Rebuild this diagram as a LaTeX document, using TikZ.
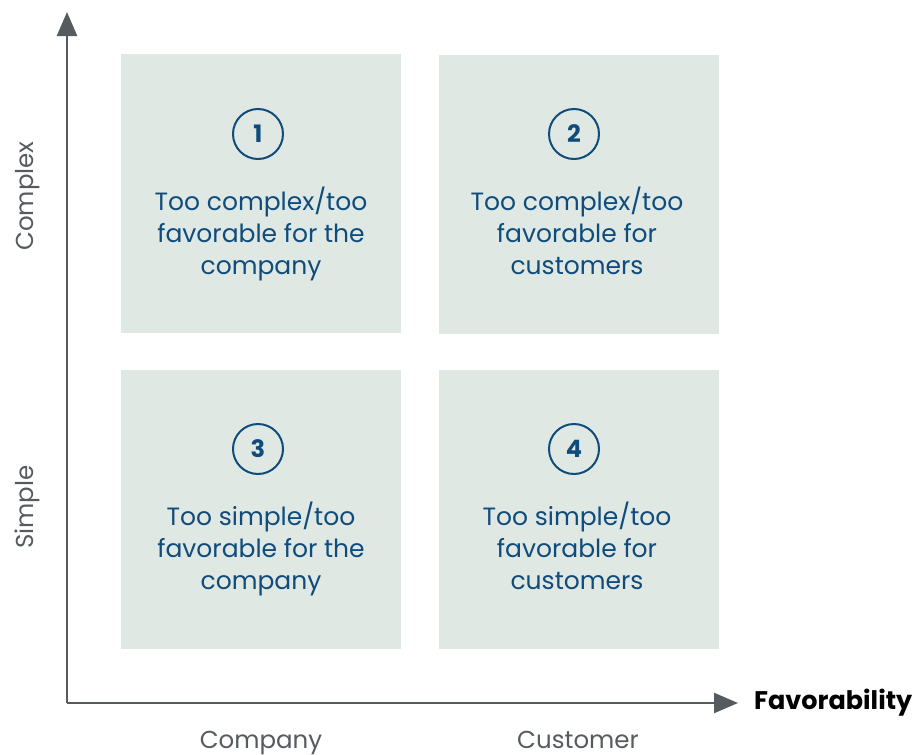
\documentclass[tikz,border=0pt]{standalone}
\usepackage{fontspec}
\setmainfont{Poppins}
\usetikzlibrary{arrows.meta}
\definecolor{boxfill}{HTML}{E0E8E4}
\definecolor{txtblue}{HTML}{0F4C7B}
\definecolor{axisgray}{HTML}{555B5E}
\definecolor{lblgray}{HTML}{555B5E}
\begin{document}
\begin{tikzpicture}[x=1pt,y=-1pt,
  quad/.style={fill=boxfill,draw=none,minimum width=280pt,minimum height=279pt,inner sep=0pt},
  num/.style={circle,draw=txtblue,line width=2pt,minimum size=50pt,inner sep=0pt,text=txtblue,font=\fontsize{24}{24}\selectfont\bfseries},
  desc/.style={text=txtblue,align=center,inner sep=0pt,font=\fontsize{25}{32}\selectfont},
  axislbl/.style={text=lblgray,anchor=base,inner sep=0pt,font=\fontsize{24.5}{28}\selectfont},
  axis/.style={draw=axisgray,line width=2.5pt,-{Triangle[length=24pt,width=20pt]}}
]
\useasboundingbox (0,0) rectangle (914,755);
\node[quad] (q1) at (261,193.5) {};
\node[quad] (q2) at (578.5,194) {};
\node[quad] (q3) at (261,509) {};
\node[quad] (q4) at (578.5,509) {};
\node[num] (n1) at (258,134) {1};
\node[num] (n2) at (574,134) {2};
\node[num] (n3) at (258,449) {3};
\node[num] (n4) at (574,449) {4};
\node[desc] (t1) at (261,235.6) {\strut Too complex/too\\\strut favorable for the\\\strut company};
\node[desc] (t2) at (577,235.6) {\strut Too complex/too\\\strut favorable for\\\strut customers};
\node[desc] (t3) at (261,550.6) {\strut Too simple/too\\\strut favorable for the\\\strut company};
\node[desc] (t4) at (577,550.6) {\strut Too simple/too\\\strut favorable for\\\strut customers};
\coordinate (o) at (67,703);
\coordinate (ytip) at (67,12);
\coordinate (xtip) at (738,703);
\draw[axis] (o) -- (ytip);
\draw[axis] (o) -- (xtip);
\node[axislbl,rotate=90] (lc) at (33,196) {Complex};
\node[axislbl,rotate=90] (ls) at (33,507) {Simple};
\node[axislbl] (lco) at (261,748) {Company};
\node[axislbl] (lcu) at (578,748) {Customer};
\node[font=\fontsize{25.5}{28}\selectfont\bfseries,text=black,anchor=west,inner sep=0pt] (fav) at (754,703) {Favorability};
\end{tikzpicture}
\end{document}
